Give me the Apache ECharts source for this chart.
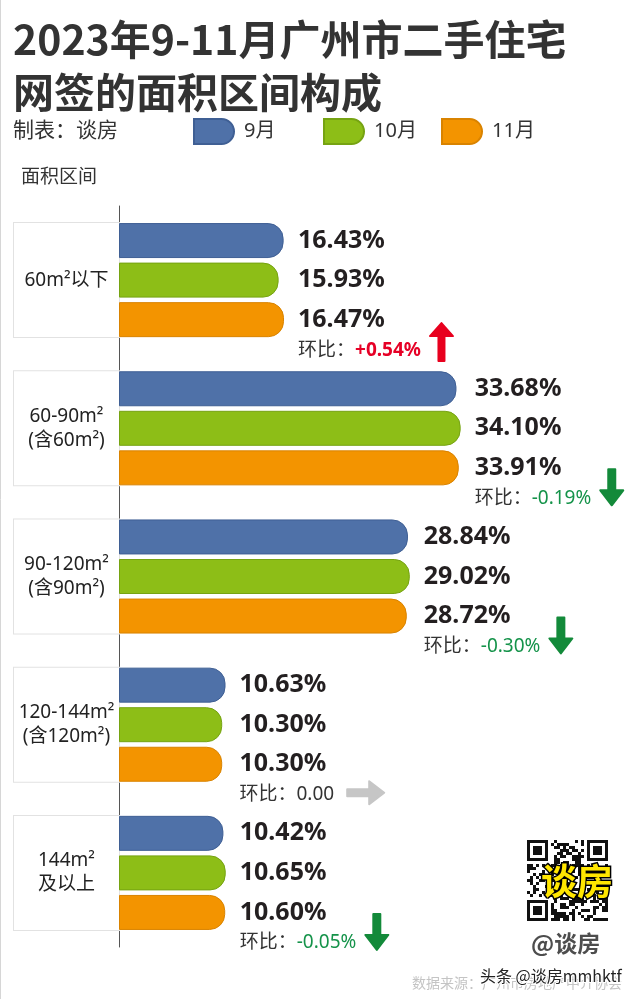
<!DOCTYPE html>
<html><head><meta charset="utf-8">
<script src="https://cdn.jsdelivr.net/npm/echarts@6/dist/echarts.min.js"></script>
<style>html,body{margin:0;padding:0;background:#fff}#c{width:640px;height:999px}</style>
</head><body><div id="c"></div><script>
// ---- data ----
const categories = ['60m²以下', '60-90m²\n(含60m²)', '90-120m²\n(含90m²)', '120-144m²\n(含120m²)', '144m²\n及以上'];
const seriesNames = ['9月', '10月', '11月'];
const sep = [16.43, 33.68, 28.84, 10.63, 10.42];
const oct = [15.93, 34.10, 29.02, 10.30, 10.65];
const nov = [16.47, 33.91, 28.72, 10.30, 10.60];
const momText = ['+0.54%', '-0.19%', '-0.30%', '0.00', '-0.05%'];
const momDir = ['up', 'down', 'down', 'flat', 'down'];

// ---- style / layout ----
const LATIN = '"Noto Sans", "Noto Sans CJK SC", sans-serif';
const CJK = '"Noto Sans CJK SC", "Noto Sans", sans-serif';
const colors = ['#4f71a8', '#8dbe17', '#f39400'];
const borders = ['#3f5f94', '#76a312', '#d98300'];
const RED = '#e60026', GREEN = '#15934a', GRAY = '#c6c6c6';
const GRID_LEFT = 119, X_MAX = 52, CHART_W = 640;
const pxPer = (CHART_W - GRID_LEFT) / X_MAX;
const groupMax = categories.map((_, j) => Math.max(sep[j], oct[j], nov[j]));

const mctx = document.createElement('canvas').getContext('2d');
function measure(t, bold, size) {
  mctx.font = (bold ? 'bold ' : '') + size + 'px ' + LATIN;
  return mctx.measureText(t).width;
}

function arrowPts(dir, cx, cy, L, hw, hh, sw) {
  if (dir === 'right') {
    const l = cx - L / 2, r = cx + L / 2;
    return [[r, cy], [r - hh, cy - hw / 2], [r - hh, cy - sw / 2], [l, cy - sw / 2], [l, cy + sw / 2], [r - hh, cy + sw / 2], [r - hh, cy + hw / 2]];
  }
  const s = dir === 'up' ? 1 : -1;
  const tip = cy - s * L / 2, end = cy + s * L / 2, base = tip + s * hh;
  return [[cx, tip], [cx + hw / 2, base], [cx + sw / 2, base], [cx + sw / 2, end], [cx - sw / 2, end], [cx - sw / 2, base], [cx - hw / 2, base]];
}

function renderMom(params, api) {
  const i = params.dataIndex;
  const pt = api.coord([api.value(0), api.value(1)]);
  const x0 = pt[0] + 14, yc = pt[1] + 70;
  const dir = momDir[i];
  const vc = dir === 'up' ? RED : dir === 'down' ? GREEN : '#333';
  const fs = 19;
  const w = measure('环比：', false, fs) + measure(momText[i], dir === 'up', fs);
  const children = [{
    type: 'text', x: x0, y: yc,
    style: {
      text: '{a|环比：}{b|' + momText[i] + '}',
      align: 'left', verticalAlign: 'middle',
      rich: {
        a: { fontSize: fs, fontFamily: LATIN, fill: '#333', color: '#333' },
        b: { fontSize: fs, fontFamily: LATIN, fill: vc, color: vc, fontWeight: dir === 'up' ? 'bold' : 'normal' }
      }
    }
  }];
  let pts, col;
  if (dir === 'up') { col = '#e8001e'; pts = arrowPts('up', x0 + w + 8 + 12.5, pt[1] + 62, 38, 23, 13, 6); }
  else if (dir === 'down') { col = '#138a3a'; pts = arrowPts('down', x0 + w + 8 + 12.5, pt[1] + 59, 36, 23, 15, 7); }
  else { col = GRAY; pts = arrowPts('right', x0 + w + 12 + 19.5, pt[1] + 68, 37, 23, 15, 7); }
  children.push({ type: 'polygon', shape: { points: pts }, style: { fill: col, stroke: col, lineWidth: 2, lineJoin: 'round' } });
  return { type: 'group', children };
}

// QR-like decoration
function qrGraphic(x, y, n, m) {
  const els = [];
  let seed = 7;
  const rnd = () => { seed = (seed * 1103515245 + 12345) % 2147483648; return seed / 2147483648; };
  const inFinder = (r, c) => (r < 8 && c < 8) || (r < 8 && c >= n - 8) || (r >= n - 8 && c < 8);
  for (let r = 0; r < n; r++) for (let c = 0; c < n; c++) {
    if (inFinder(r, c)) continue;
    if (rnd() < 0.5) els.push({ type: 'rect', shape: { x: x + c * m, y: y + r * m, width: m, height: m }, style: { fill: '#111' } });
  }
  [[0, 0], [0, n - 7], [n - 7, 0]].forEach(([r, c]) => {
    els.push({ type: 'rect', shape: { x: x + c * m + m / 2, y: y + r * m + m / 2, width: 6 * m, height: 6 * m }, style: { fill: 'none', stroke: '#111', lineWidth: m } });
    els.push({ type: 'rect', shape: { x: x + (c + 2) * m, y: y + (r + 2) * m, width: 3 * m, height: 3 * m }, style: { fill: '#111' } });
  });
  return els;
}

const chart = echarts.init(document.getElementById('c'), null, { renderer: 'canvas' });
const valueLabel = {
  show: true, position: 'right', distance: 14,
  formatter: p => p.value.toFixed(2) + '%',
  fontSize: 25, fontWeight: 'bold', color: '#231f20', fontFamily: LATIN
};
chart.setOption({
  animation: false,
  backgroundColor: '#fff',
  title: [
    { text: '2023年9-11月广州市二手住宅\n网签的面积区间构成', left: 13, top: 13, padding: 0,
      textStyle: { fontSize: 41, fontWeight: 'bold', lineHeight: 53, color: '#333', fontFamily: CJK } },
    { text: '制表：谈房', left: 13, top: 119, padding: 0,
      textStyle: { fontSize: 21, fontWeight: 'normal', color: '#333', fontFamily: CJK } },
    { text: '面积区间', left: 21, top: 166, padding: 0,
      textStyle: { fontSize: 19, fontWeight: 'normal', color: '#333', fontFamily: CJK } }
  ],
  legend: seriesNames.map((n, i) => ({
    data: [n], left: [193, 323, 441][i], top: 118, padding: 0,
    itemWidth: 40, itemHeight: 25, selectedMode: false,
    icon: 'path://M0,0H27.5A12.5,12.5,0,0,1,27.5,25H0Z',
    textStyle: { fontSize: 20, color: '#333', fontFamily: LATIN, padding: [0, 0, 0, 5] }
  })),
  grid: { left: GRID_LEFT, right: 0, top: 206, height: 741 },
  xAxis: { type: 'value', min: 0, max: X_MAX, show: false },
  yAxis: {
    type: 'category', data: categories, inverse: true,
    axisTick: { show: false },
    axisLine: { lineStyle: { color: '#555', width: 1 } },
    axisLabel: {
      margin: 52.5, align: 'center', verticalAlign: 'middle',
      width: 105, height: 114, padding: 0,
      backgroundColor: '#fff', borderColor: '#e2e2e2', borderWidth: 1,
      fontSize: 19, lineHeight: 24, color: '#222', fontFamily: LATIN
    }
  },
  series: [
    ...[sep, oct, nov].map((d, i) => ({
      type: 'bar', name: seriesNames[i],
      data: d.map((v, j) => ({ value: v, label: { offset: [(groupMax[j] - v) * pxPer, 0] } })),
      barWidth: 35, barGap: '13%',
      itemStyle: { color: colors[i], borderColor: borders[i], borderWidth: 1, borderRadius: [0, 15, 15, 0] },
      label: valueLabel
    })),
    { type: 'custom', name: '环比', renderItem: renderMom, silent: true, z: 5,
      data: groupMax.map((v, i) => [v, i]), encode: { x: 0, y: 1 } }
  ],
  graphic: [
    { type: 'line', shape: { x1: 0.5, y1: 0, x2: 0.5, y2: 999 }, style: { stroke: '#d6d6d6', lineWidth: 1 } },
    { type: 'group', children: qrGraphic(527, 840, 27, 3) },
    { type: 'text', x: 577, y: 881, style: { text: '谈房', align: 'center', verticalAlign: 'middle',
      font: 'bold 36px "Noto Sans CJK SC"', fill: '#ffe600', stroke: '#000', lineWidth: 3 } },
    { type: 'text', x: 531, y: 943, style: { text: '@谈房', verticalAlign: 'middle',
      font: 'bold 23px "Noto Sans CJK SC"', fill: '#4d4d4d' } },
    { type: 'text', x: 412, y: 983, style: { text: '数据来源：广州市房地产中介协会', verticalAlign: 'middle',
      font: '14px "Noto Sans CJK SC"', fill: '#c4c4c4' } },
    { type: 'text', x: 480, y: 976, style: { text: '头条 @谈房mmhktf', verticalAlign: 'middle',
      font: '16px "Noto Sans CJK SC"', fill: '#222', stroke: '#fff', lineWidth: 2 } }
  ]
});
</script></body></html>
